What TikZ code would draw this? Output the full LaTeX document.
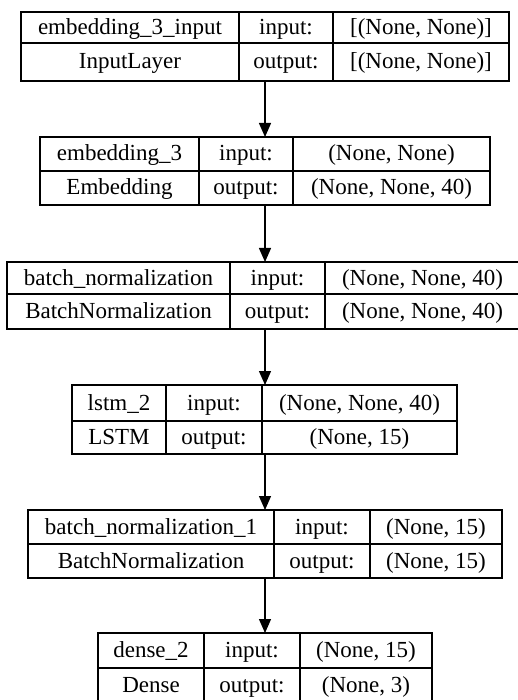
\documentclass[tikz,border=0pt]{standalone}
\usepackage{fontspec}
\setmainfont{Liberation Serif}
\usetikzlibrary{arrows.meta}
\begin{document}
\begin{tikzpicture}[x=1pt,y=-1pt,
  box/.style={draw,line width=1.3pt,inner sep=0pt,outer sep=0pt},
  txt/.style={anchor=base,inner sep=0pt,font=\fontsize{23}{27}\selectfont},
  arr/.style={line width=1.3pt,-{Triangle[length=14pt,width=12pt]}},
  rule/.style={line width=1.3pt}]
\useasboundingbox (0,0) rectangle (518,700);
\fill[white] (0,0) rectangle (518,700);
\coordinate (ax) at (265,0);

% box 1
\node[box,minimum width=488pt,minimum height=69pt] (b1) at (265,46.5) {};
\draw[rule] (21,43) -- (509,43) (239,12) -- (239,81) (333,12) -- (333,81);
\node[txt] (b1a) at (130,34.5) {embedding\_3\_input};
\node[txt] (b1b) at (286,34.5) {input:};
\node[txt] (b1c) at (421,34.5) {[(None, None)]};
\node[txt] (b1d) at (130,68.5) {InputLayer};
\node[txt] (b1e) at (286,68.5) {output:};
\node[txt] (b1f) at (421,68.5) {[(None, None)]};

% box 2
\node[box,minimum width=450pt,minimum height=68pt] (b2) at (265,171) {};
\draw[rule] (40,171) -- (490,171) (199,137) -- (199,205) (293,137) -- (293,205);
\node[txt] (b2a) at (119.5,161) {embedding\_3};
\node[txt] (b2b) at (246,161) {input:};
\node[txt] (b2c) at (391.5,161) {(None, None)};
\node[txt] (b2d) at (119.5,195) {Embedding};
\node[txt] (b2e) at (246,195) {output:};
\node[txt] (b2f) at (391.5,195) {(None, None, 40)};

% box 3
\node[box,minimum width=513pt,minimum height=67pt] (b3) at (263.5,295.5) {};
\draw[rule] (7,294) -- (520,294) (230,262) -- (230,329) (325,262) -- (325,329);
\node[txt] (b3a) at (118.5,285) {batch\_normalization};
\node[txt] (b3b) at (277.5,285) {input:};
\node[txt] (b3c) at (422.5,285) {(None, None, 40)};
\node[txt] (b3d) at (118.5,318.5) {BatchNormalization};
\node[txt] (b3e) at (277.5,318.5) {output:};
\node[txt] (b3f) at (422.5,318.5) {(None, None, 40)};

% box 4
\node[box,minimum width=385pt,minimum height=69pt] (b4) at (264.5,419.5) {};
\draw[rule] (72,421) -- (457,421) (166,385) -- (166,454) (262,385) -- (262,454);
\node[txt] (b4a) at (119,410) {lstm\_2};
\node[txt] (b4b) at (214,410) {input:};
\node[txt] (b4c) at (359.5,410) {(None, None, 40)};
\node[txt] (b4d) at (119,444.5) {LSTM};
\node[txt] (b4e) at (214,444.5) {output:};
\node[txt] (b4f) at (359.5,444.5) {(None, 15)};

% box 5
\node[box,minimum width=474pt,minimum height=68pt] (b5) at (265,544) {};
\draw[rule] (28,544) -- (502,544) (274,510) -- (274,578) (370,510) -- (370,578);
\node[txt] (b5a) at (151,534) {batch\_normalization\_1};
\node[txt] (b5b) at (322,534) {input:};
\node[txt] (b5c) at (436,534) {(None, 15)};
\node[txt] (b5d) at (151,568) {BatchNormalization};
\node[txt] (b5e) at (322,568) {output:};
\node[txt] (b5f) at (436,568) {(None, 15)};

% box 6
\node[box,minimum width=334pt,minimum height=69pt] (b6) at (265,667.5) {};
\draw[rule] (98,668) -- (432,668) (204,633) -- (204,702) (300,633) -- (300,702);
\node[txt] (b6a) at (151,657.5) {dense\_2};
\node[txt] (b6b) at (252,657.5) {input:};
\node[txt] (b6c) at (366,657.5) {(None, 15)};
\node[txt] (b6d) at (151,692) {Dense};
\node[txt] (b6e) at (252,692) {output:};
\node[txt] (b6f) at (366,692) {(None, 3)};

% arrows
\draw[arr] (b1.south -| ax) -- (b2.north -| ax);
\draw[arr] (b2.south -| ax) -- (b3.north -| ax);
\draw[arr] (b3.south -| ax) -- (b4.north -| ax);
\draw[arr] (b4.south -| ax) -- (b5.north -| ax);
\draw[arr] (b5.south -| ax) -- (b6.north -| ax);
\end{tikzpicture}
\end{document}
